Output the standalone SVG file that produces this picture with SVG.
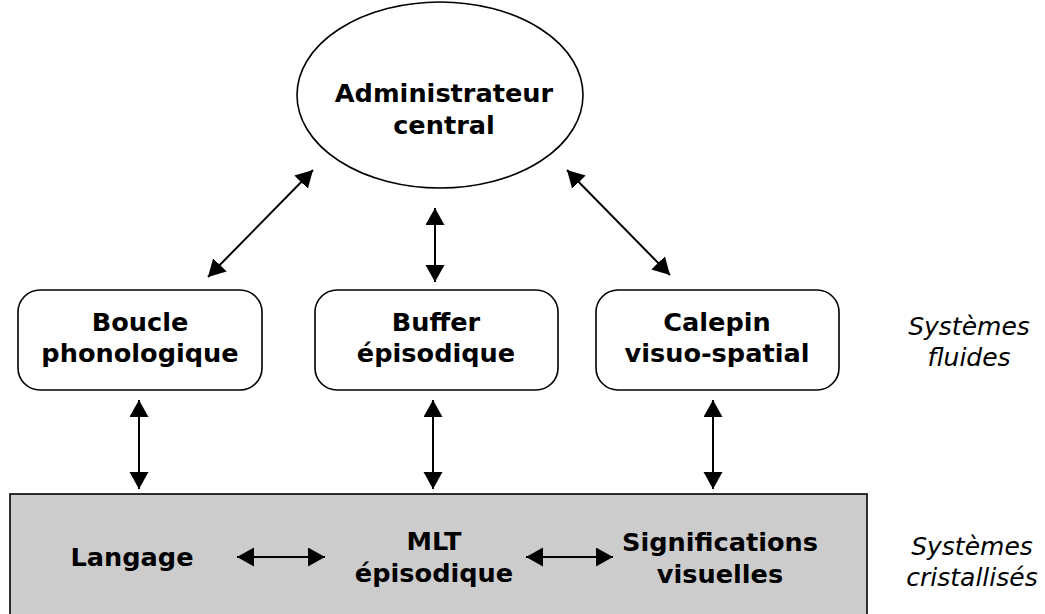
<svg xmlns="http://www.w3.org/2000/svg" width="1045" height="614" viewBox="0 0 1045 614">
  <style>
    .node { fill: #ffffff; stroke: #000000; stroke-width: 1.6; }
    .store { fill: #cccccc; stroke: #000000; stroke-width: 1.6; }
    .label { font-family: "DejaVu Sans", "Liberation Sans", sans-serif; font-weight: bold; font-size: 25.6px; text-anchor: middle; fill: #000000; }
    .side { font-family: "DejaVu Sans", "Liberation Sans", sans-serif; font-style: italic; font-size: 25px; text-anchor: middle; fill: #000000; }
    .link { stroke: #000000; stroke-width: 2; fill: none; marker-start: url(#head); marker-end: url(#head); }
  </style>
  <defs>
    <marker id="head" markerUnits="userSpaceOnUse" markerWidth="18" markerHeight="20" refX="17" refY="9.5" orient="auto-start-reverse">
      <path d="M0,0 L17,9.5 L0,19 Z" fill="#000000"/>
    </marker>
  </defs>

  <rect width="1045" height="614" fill="#ffffff"/>

  <!-- Long-term memory band -->
  <g id="mlt-band">
    <rect class="store" x="10" y="494" width="857" height="130"/>
  </g>
  <g id="langage">
    <text class="label" x="132" y="566">Langage</text>
  </g>
  <g id="mlt-episodique">
    <text class="label" x="434" y="550">MLT</text>
    <text class="label" x="434" y="582">épisodique</text>
  </g>
  <g id="significations">
    <text class="label" x="720" y="551">Significations</text>
    <text class="label" x="720" y="583">visuelles</text>
  </g>

  <!-- Central executive -->
  <g id="administrateur">
    <ellipse class="node" cx="440" cy="95" rx="143" ry="93"/>
    <text class="label" x="444" y="102">Administrateur</text>
    <text class="label" x="444" y="134">central</text>
  </g>

  <!-- Slave systems -->
  <g id="boucle">
    <rect class="node" x="18" y="290" width="244" height="100" rx="22" ry="22"/>
    <text class="label" x="140" y="331">Boucle</text>
    <text class="label" x="140" y="362">phonologique</text>
  </g>
  <g id="buffer">
    <rect class="node" x="315" y="290" width="243" height="100" rx="22" ry="22"/>
    <text class="label" x="436" y="331">Buffer</text>
    <text class="label" x="436" y="362">épisodique</text>
  </g>
  <g id="calepin">
    <rect class="node" x="596" y="290" width="243" height="100" rx="22" ry="22"/>
    <text class="label" x="717" y="331">Calepin</text>
    <text class="label" x="717" y="362">visuo-spatial</text>
  </g>

  <!-- Side captions -->
  <g id="systemes-fluides">
    <text class="side" x="969" y="335">Systèmes</text>
    <text class="side" x="969" y="366">fluides</text>
  </g>
  <g id="systemes-cristallises">
    <text class="side" x="972" y="555">Systèmes</text>
    <text class="side" x="972" y="586">cristallisés</text>
  </g>

  <!-- Connectors -->
  <g id="connectors">
    <line class="link" x1="208" y1="277" x2="313" y2="170"/>
    <line class="link" x1="435" y1="282" x2="435" y2="208"/>
    <line class="link" x1="567" y1="170" x2="670" y2="275"/>
    <line class="link" x1="139" y1="400" x2="139" y2="489"/>
    <line class="link" x1="433" y1="400" x2="433" y2="489"/>
    <line class="link" x1="713" y1="400" x2="713" y2="489"/>
    <line class="link" x1="237" y1="557" x2="325" y2="557"/>
    <line class="link" x1="526" y1="557" x2="613" y2="557"/>
  </g>
</svg>
